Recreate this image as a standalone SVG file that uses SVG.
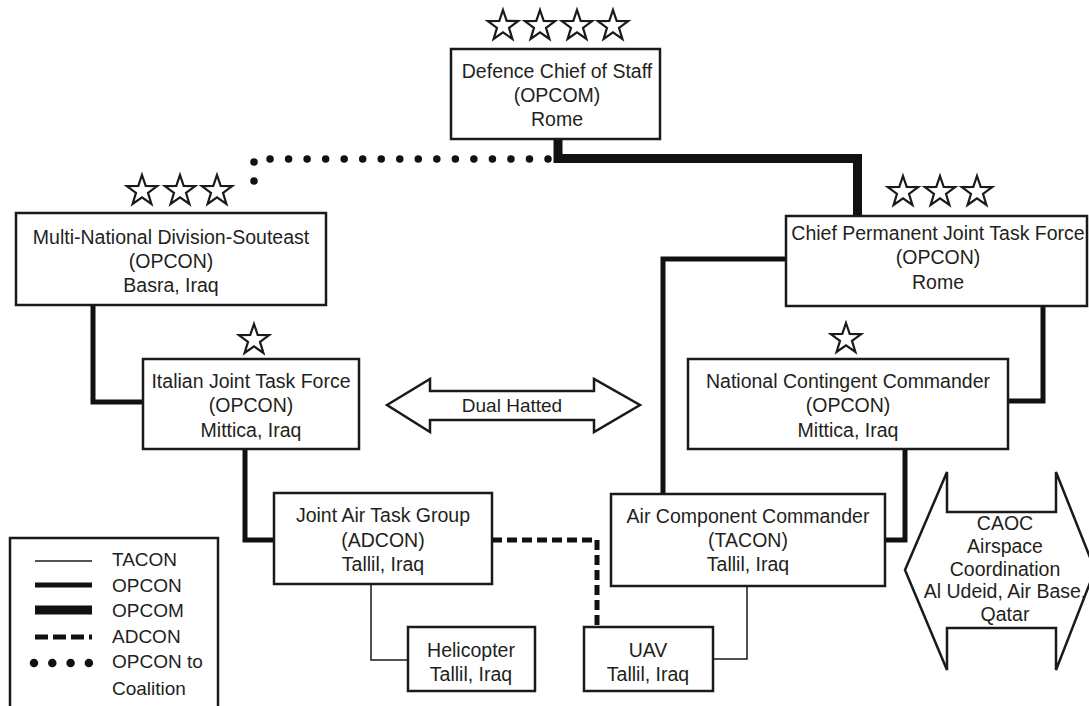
<svg xmlns="http://www.w3.org/2000/svg" xmlns:xlink="http://www.w3.org/1999/xlink" width="1089" height="706" viewBox="0 0 1089 706">
<style>
  .box { fill: #fff; stroke: #1a1a1a; stroke-width: 2.5; }
  .t { font-family: "Liberation Sans", Arial, sans-serif; font-size: 19.5px; fill: #231f20; text-anchor: middle; }
  .lt { font-family: "Liberation Sans", Arial, sans-serif; font-size: 19px; fill: #231f20; }
  .star { fill: #fff; stroke: #1a1a1a; stroke-width: 2.2; stroke-linejoin: miter; }
  .tacon { fill: none; stroke: #1a1a1a; stroke-width: 1.5; }
  .opcon { fill: none; stroke: #111; stroke-width: 5; stroke-linejoin: miter; }
  .opcom { fill: none; stroke: #111; stroke-width: 9; stroke-linejoin: miter; }
  .adcon { fill: none; stroke: #111; stroke-width: 5; stroke-dasharray: 10 5; }
  .dots { fill: none; stroke: #111; stroke-width: 7.5; stroke-linecap: round; }
  .arrow { fill: #fff; stroke: #1a1a1a; stroke-width: 2.5; stroke-linejoin: miter; }
</style>
<defs>
  <path id="star" class="star" d="M0,-16 L3.7,-5.1 L15.22,-4.94 L6,1.95 L9.4,12.94 L0,6.3 L-9.4,12.94 L-6,1.95 L-15.22,-4.94 L-3.7,-5.1 Z"/>
</defs>
<rect width="1089" height="706" fill="#fff"/>

<g id="connectors">
  <path class="opcom" d="M558,139 V158.5 H857.5 V216"/>
  <path class="dots" d="M548,159 H270" stroke-dasharray="0 18.53"/>
  <path class="dots" d="M254,162 V200" stroke-dasharray="0 19"/>
  <path class="opcon" d="M93,305 V402 H143"/>
  <path class="opcon" d="M245,449 V540 H274"/>
  <path class="opcon" d="M786,259 H663 V494"/>
  <path class="opcon" d="M1043,306 V401 H1008"/>
  <path class="opcon" d="M905,449 V540 H885"/>
  <path class="adcon" d="M492,540 H597 V627"/>
  <path class="tacon" d="M371,584 V660 H408"/>
  <path class="tacon" d="M747,586 V659 H713"/>
</g>

<g id="dcos">
  <use xlink:href="#star" x="503" y="26"/>
  <use xlink:href="#star" x="540" y="26"/>
  <use xlink:href="#star" x="577" y="26"/>
  <use xlink:href="#star" x="613" y="26"/>
  <rect class="box" x="451" y="49" width="209" height="90"/>
  <text class="t" x="557" y="78">Defence Chief of Staff</text>
  <text class="t" x="557" y="102">(OPCOM)</text>
  <text class="t" x="557" y="126">Rome</text>
</g>

<g id="mnd">
  <use xlink:href="#star" x="142" y="191"/>
  <use xlink:href="#star" x="180" y="191"/>
  <use xlink:href="#star" x="217" y="191"/>
  <rect class="box" x="16" y="213" width="310" height="92"/>
  <text class="t" x="171" y="244">Multi-National Division-Souteast</text>
  <text class="t" x="171" y="268">(OPCON)</text>
  <text class="t" x="171" y="292">Basra, Iraq</text>
</g>

<g id="cpjtf">
  <use xlink:href="#star" x="903" y="192"/>
  <use xlink:href="#star" x="940" y="192"/>
  <use xlink:href="#star" x="977" y="192"/>
  <rect class="box" x="786" y="216" width="301" height="90"/>
  <text class="t" x="938" y="240">Chief Permanent Joint Task Force</text>
  <text class="t" x="938" y="264">(OPCON)</text>
  <text class="t" x="938" y="289">Rome</text>
</g>

<g id="ijtf">
  <use xlink:href="#star" x="254" y="340"/>
  <rect class="box" x="143" y="359" width="216" height="90"/>
  <text class="t" x="251" y="388">Italian Joint Task Force</text>
  <text class="t" x="251" y="412">(OPCON)</text>
  <text class="t" x="251" y="437">Mittica, Iraq</text>
</g>

<g id="ncc">
  <use xlink:href="#star" x="846" y="339"/>
  <rect class="box" x="688" y="359" width="320" height="90"/>
  <text class="t" x="848" y="388">National Contingent Commander</text>
  <text class="t" x="848" y="412">(OPCON)</text>
  <text class="t" x="848" y="437">Mittica, Iraq</text>
</g>

<g id="dual-hatted">
  <polygon class="arrow" points="387,405 430,379 430,391 594,391 594,379 640,405 594,432 594,420 430,420 430,432"/>
  <text class="t" x="512" y="412" style="font-size:19px">Dual Hatted</text>
</g>

<g id="jatg">
  <rect class="box" x="274" y="493" width="218" height="91"/>
  <text class="t" x="383" y="522">Joint Air Task Group</text>
  <text class="t" x="383" y="547">(ADCON)</text>
  <text class="t" x="383" y="571">Tallil, Iraq</text>
</g>

<g id="acc">
  <rect class="box" x="611" y="494" width="274" height="92"/>
  <text class="t" x="748" y="523">Air Component Commander</text>
  <text class="t" x="748" y="547">(TACON)</text>
  <text class="t" x="748" y="571">Tallil, Iraq</text>
</g>

<g id="helicopter">
  <rect class="box" x="408" y="627" width="127" height="64"/>
  <text class="t" x="471" y="657">Helicopter</text>
  <text class="t" x="471" y="681">Tallil, Iraq</text>
</g>

<g id="uav">
  <rect class="box" x="584" y="627" width="129" height="64"/>
  <text class="t" x="648" y="657">UAV</text>
  <text class="t" x="648" y="681">Tallil, Iraq</text>
</g>

<g id="caoc">
  <polygon class="arrow" points="905,570 947,472 947,512 1056,512 1056,472 1095,570 1056,670 1056,628 947,628 947,670"/>
  <text class="t" x="1005" y="530">CAOC</text>
  <text class="t" x="1005" y="553">Airspace</text>
  <text class="t" x="1005" y="576">Coordination</text>
  <text class="t" x="1005" y="598">Al Udeid, Air Base,</text>
  <text class="t" x="1005" y="621">Qatar</text>
</g>

<g id="legend">
  <rect class="box" x="10" y="538" width="208" height="180"/>
  <line class="tacon" x1="35" y1="561" x2="92" y2="561"/>
  <line x1="35" y1="585" x2="92" y2="585" stroke="#111" stroke-width="5"/>
  <line x1="35" y1="610" x2="92" y2="610" stroke="#111" stroke-width="9"/>
  <line x1="35" y1="637" x2="92" y2="637" stroke="#111" stroke-width="5" stroke-dasharray="13 5"/>
  <line x1="34" y1="663" x2="89" y2="663" stroke="#111" stroke-width="8.5" stroke-linecap="round" stroke-dasharray="0 18.3"/>
  <text class="lt" x="112" y="566">TACON</text>
  <text class="lt" x="112" y="592">OPCON</text>
  <text class="lt" x="112" y="617">OPCOM</text>
  <text class="lt" x="112" y="643">ADCON</text>
  <text class="lt" x="112" y="668">OPCON to</text>
  <text class="lt" x="112" y="695">Coalition</text>
</g>
</svg>
